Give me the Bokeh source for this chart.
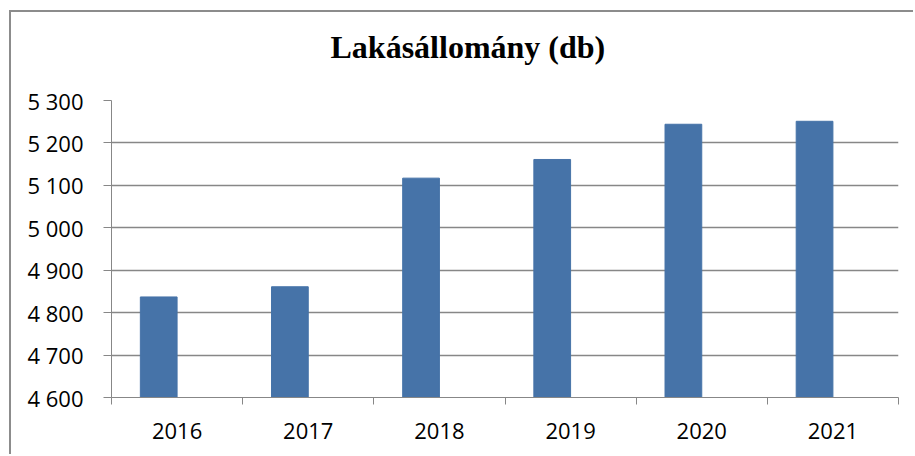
from bokeh.plotting import figure
from bokeh.models import Range1d, FixedTicker, ColumnDataSource, Title
from bokeh.embed import file_html
from bokeh.resources import INLINE

title_text = "Lakásállomány (db)"
years = ["2016", "2017", "2018", "2019", "2020", "2021"]
values = [4837, 4861, 5117, 5161, 5244, 5251]
y_ticks = [4600, 4700, 4800, 4900, 5000, 5100, 5200, 5300]
y_tick_labels = ["4 600", "4 700", "4 800", "4 900", "5 000", "5 100", "5 200", "5 300"]

BAR = "#4673A8"
GRID = "#878787"

n = len(years)
centers = [i + 0.5 for i in range(n)]
bar_w = 0.28
bar_x = [c - bar_w / 2 for c in centers]
bottoms = [y_ticks[0]] * n

src = ColumnDataSource(dict(x=bar_x, top=values, bottom=bottoms))

p = figure(width=904, height=444, output_backend="svg", toolbar_location=None,
           x_range=Range1d(0, n), y_range=Range1d(y_ticks[0], y_ticks[-1]),
           min_border_left=100, min_border_right=17, min_border_top=88, min_border_bottom=59,
           title=title_text)
p.styles = {"border-left": "2px solid #8c8c8c", "border-top": "2px solid #8c8c8c",
            "margin-left": "9px", "margin-top": "10px"}

# empty spacer between the title and the plot area
p.add_layout(Title(text=" ", text_font_size="1px", standoff=33), "above")

p.vbar(x="x", top="top", bottom="bottom", width=bar_w, source=src,
       fill_color=BAR, line_color=BAR)

p.title.text_font = "Liberation Serif"
p.title.text_font_style = "bold"
p.title.text_font_size = "32px"
p.title.text_color = "black"
p.title.align = "left"
p.title.offset = 219
p.title.standoff = 0

p.outline_line_color = None
p.background_fill_color = "white"
p.border_fill_color = "white"

# x axis: ticks at category boundaries, labels at centers
p.xaxis.ticker = FixedTicker(ticks=centers, minor_ticks=list(range(n + 1)))
p.xaxis.major_label_overrides = {c: y for c, y in zip(centers, years)}
p.xaxis.major_tick_out = 0
p.xaxis.major_tick_in = 0
p.xaxis.minor_tick_out = 7
p.xaxis.minor_tick_in = 0
p.xaxis.minor_tick_line_color = GRID
p.xaxis.axis_line_color = GRID
p.xaxis.major_label_text_font = "Open Sans"
p.xaxis.major_label_text_font_size = "22px"
p.xaxis.major_label_text_color = "black"
p.xaxis.major_label_standoff = 18
p.xgrid.grid_line_color = None

p.yaxis.ticker = FixedTicker(ticks=y_ticks, minor_ticks=[])
p.yaxis.major_label_overrides = {t: l for t, l in zip(y_ticks, y_tick_labels)}
p.yaxis.major_tick_out = 8
p.yaxis.major_tick_in = 0
p.yaxis.major_tick_line_color = GRID
p.yaxis.axis_line_color = GRID
p.yaxis.minor_tick_line_color = None
p.yaxis.major_label_text_font = "Open Sans"
p.yaxis.major_label_text_font_size = "22px"
p.yaxis.major_label_text_color = "black"
p.yaxis.major_label_standoff = 20
p.ygrid.grid_line_color = GRID
p.ygrid.grid_line_width = 1.5

open("out.html", "w").write(file_html(p, INLINE))
